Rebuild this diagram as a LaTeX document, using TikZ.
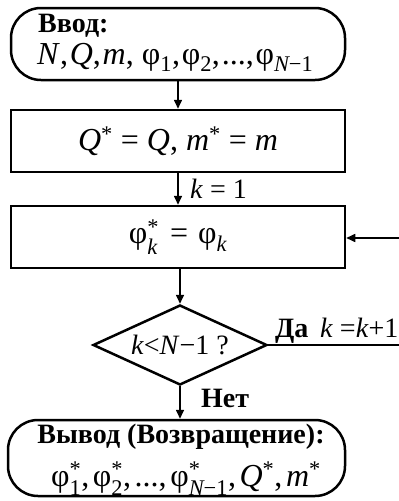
\documentclass[tikz,border=0pt]{standalone}
\usepackage{amsmath}
\usepackage{fontspec}
\setmainfont{Liberation Serif}
\usetikzlibrary{arrows.meta,shapes.geometric}
\newcommand\vf{\text{φ}}
\newcommand\iv[1]{\textit{#1}}
\newcommand\st{\text{*}}
\newcommand\cm{,\hspace{3.6pt}}
\newcommand\cn{,\hspace{1.8pt}}
\newcommand\bigf{\fontsize{32}{36}\selectfont}
\begin{document}
\begin{tikzpicture}[x=1pt,y=-1pt,
  font=\fontsize{28}{32}\selectfont,
  box/.style={draw, line width=2.5pt, minimum width=334pt, minimum height=62pt, inner sep=0pt},
  term/.style={box, rounded corners=30pt},
  arr/.style={line width=1.6pt, -{Triangle[length=9pt,width=8pt]}},
  lbl/.style={inner sep=0pt},
  dec/.style={draw, diamond, line width=2.5pt, inner sep=0pt, minimum width=174pt, minimum height=80pt, aspect=2.175}]
\useasboundingbox (0,0) rectangle (399,501);
% top terminal
\node[term, minimum height=72pt] (in) at (178,44) {};
\node[lbl, anchor=base west] (inh) at (38,32) {\textbf{Ввод:}};
\node[lbl, anchor=base west, font=\bigf] (inv) at (37,64) {\iv{N}\cn\iv{Q}\cn\iv{m}, $\vf_{\text{1}}$\cn$\vf_{\text{2}}$\cn...\cn$\vf_{\textit{N}\text{−1}}$};
% process 1
\node[box, font=\bigf] (p1) at (178,141) {\iv{Q}$^{\st}$ = \iv{Q}, \iv{m}$^{\st}$ = \iv{m}};
% process 2
\node[box, font=\bigf] (p2) at (178,237) {$\vf^{\st}_{\textit{k}}$\hspace{3pt} = \hspace{2pt}$\vf_{\textit{k}}$};
% decision
\node[dec] (d) at (180,345) {\iv{k}<\iv{N}−1 ?};
% bottom terminal
\node[term, minimum height=76pt, minimum width=337pt] (out) at (176.5,458) {};
\node[lbl, anchor=base] (outh) at (181,443) {\textbf{Вывод (Возвращение):}};
\node[lbl, anchor=base, font=\bigf] (outv) at (186,486) {$\vf^{\st}_{\text{1}}$\cm$\vf^{\st}_{\text{2}}$\cm...\cm$\vf^{\st}_{\textit{N}\text{−1}}$\cm\iv{Q}$^{\st}$\cm\iv{m}$^{\st}$};
% connectors
\draw[arr] (in.south) -- (p1.north);
\draw[arr] (p1.south) -- (p2.north);
\draw[arr] (p2.south -| d.north) -- (d.north);
\draw[arr] (d.south) -- (d.south |- out.north);
\coordinate (r1) at (401,345);
\coordinate (r2) at (401,238);
\draw[arr] (d.east) -- (r1) -- (r2) -- (r2 -| p2.east);
% labels
\node[lbl, anchor=base west] (k1) at (190,198) {\iv{k} = 1};
\node[lbl, anchor=base west] (da) at (275,337) {\textbf{Да}\, \iv{k} =\iv{k}+1};
\node[lbl, anchor=base west] (net) at (201,407) {\textbf{Нет}};
\end{tikzpicture}
\end{document}
